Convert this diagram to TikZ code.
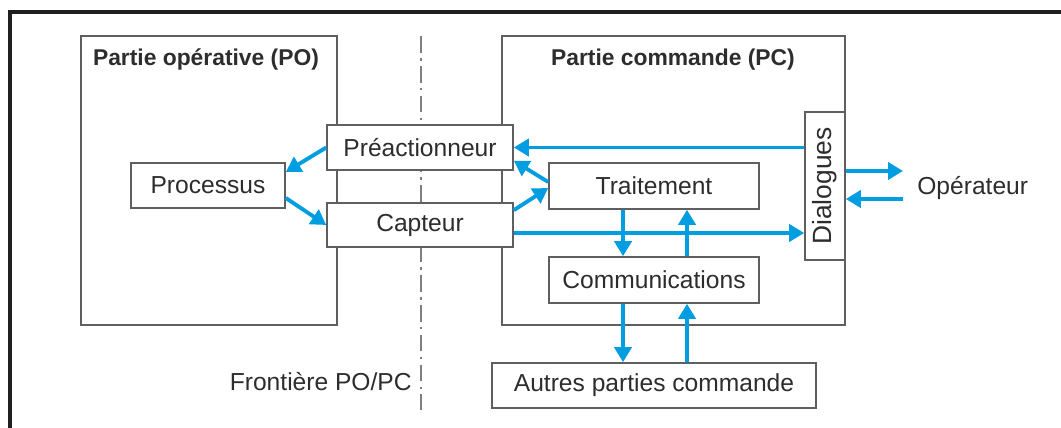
\documentclass[tikz,border=0pt]{standalone}
\usepackage{fontspec}
\setmainfont{Liberation Sans}
\usepackage{tikz}
\usetikzlibrary{arrows.meta}
\usetikzlibrary{calc}
\definecolor{flowblue}{RGB}{0,157,224}
\definecolor{boxgray}{RGB}{95,95,95}
\definecolor{txtgray}{RGB}{45,45,45}

\begin{document}
\begin{tikzpicture}[x=0.02cm, y=-0.02cm,
	part/.style={draw=boxgray, line width=0.9pt, rectangle, inner sep=0pt},
	box/.style={draw=boxgray, line width=0.9pt, fill=white, rectangle, inner sep=0pt, text=txtgray, font=\fontsize{14}{16}\selectfont},
	title/.style={text=txtgray, inner sep=0pt, font=\bfseries\fontsize{13}{15}\selectfont},
	plain/.style={text=txtgray, inner sep=0pt, font=\fontsize{14}{16}\selectfont},
	flow/.style={color=flowblue, line width=2.2pt, -{Triangle[length=3mm, width=3.4mm]}}
]
\useasboundingbox (0,0) rectangle (1061,428);
\draw[line width=2.2pt, black!88] (10,430) -- (10,12) -- (1063,12);

% parties PO / PC
\node[part, minimum width=5.12cm, minimum height=5.78cm] (po) at (209,180.5) {};
\node[part, minimum width=6.86cm, minimum height=5.78cm] (pc) at (673.5,180.5) {};
\node[title] (potitle) at (206,60) {Partie opérative (PO)};
\node[title] (pctitle) at (673,60) {Partie commande (PC)};

% frontiere
\coordinate (ftop) at (421,36);
\coordinate (fbot) at (421,410);
\draw[boxgray!80, line width=1pt, dash pattern=on 9.5pt off 3pt on 1.5pt off 3pt] (ftop) -- (fbot);
\node[plain, anchor=east] (front) at (412,382) {Frontière PO/PC};

% blocs
\node[box, minimum width=3.08cm, minimum height=0.9cm] (proc) at (208,185.5) {Processus};
\node[box, minimum width=3.72cm, minimum height=0.9cm] (prea) at (420,147.5) {Préactionneur};
\node[box, minimum width=3.72cm, minimum height=0.88cm] (capt) at (420,225) {Capteur};
\node[box, minimum width=4.2cm, minimum height=0.92cm] (trait) at (654,186) {Traitement};
\node[box, minimum width=4.2cm, minimum height=0.92cm] (comm) at (654,280) {Communications};
\node[box, minimum width=6.48cm, minimum height=0.9cm] (autres) at (654,385.5) {Autres parties commande};
\node[box, minimum width=0.8cm, minimum height=2.96cm, font=\fontsize{15}{17}\selectfont] (dial) at (825,186) {\rotatebox{90}{Dialogues}};
\node[plain, anchor=west, inner xsep=0.28cm] (op) at (903,188) {Opérateur};

\coordinate (cs) at ([yshift=-0.16cm]capt.east);
\coordinate (td) at ([xshift=-0.62cm]trait.south);
\coordinate (tu) at ([xshift=0.66cm]trait.south);
\coordinate (cd) at ([xshift=-0.62cm]comm.south);
\coordinate (cu) at ([xshift=0.66cm]comm.south);
\coordinate (dout) at ([yshift=0.3cm]dial.east);
\coordinate (din) at ([yshift=-0.26cm]dial.east);

\path[flow]
(prea.west) edge ([yshift=0.27cm]proc.east)
([yshift=-0.25cm]proc.east) edge (capt.west)
(prea.east -| dial.west) edge (prea.east)
([yshift=0.08cm]trait.west) edge ([yshift=0.2cm]prea.south east)
([yshift=-0.16cm]capt.north east) edge ([yshift=-0.04cm]trait.west)
(cs) edge (cs -| dial.west)
(td) edge (td |- comm.north)
(tu |- comm.north) edge (tu)
(cd) edge (cd |- autres.north)
(cu |- autres.north) edge (cu)
(dout) edge (dout -| op.west)
(din -| op.west) edge (din)
;
\end{tikzpicture}
\end{document}
